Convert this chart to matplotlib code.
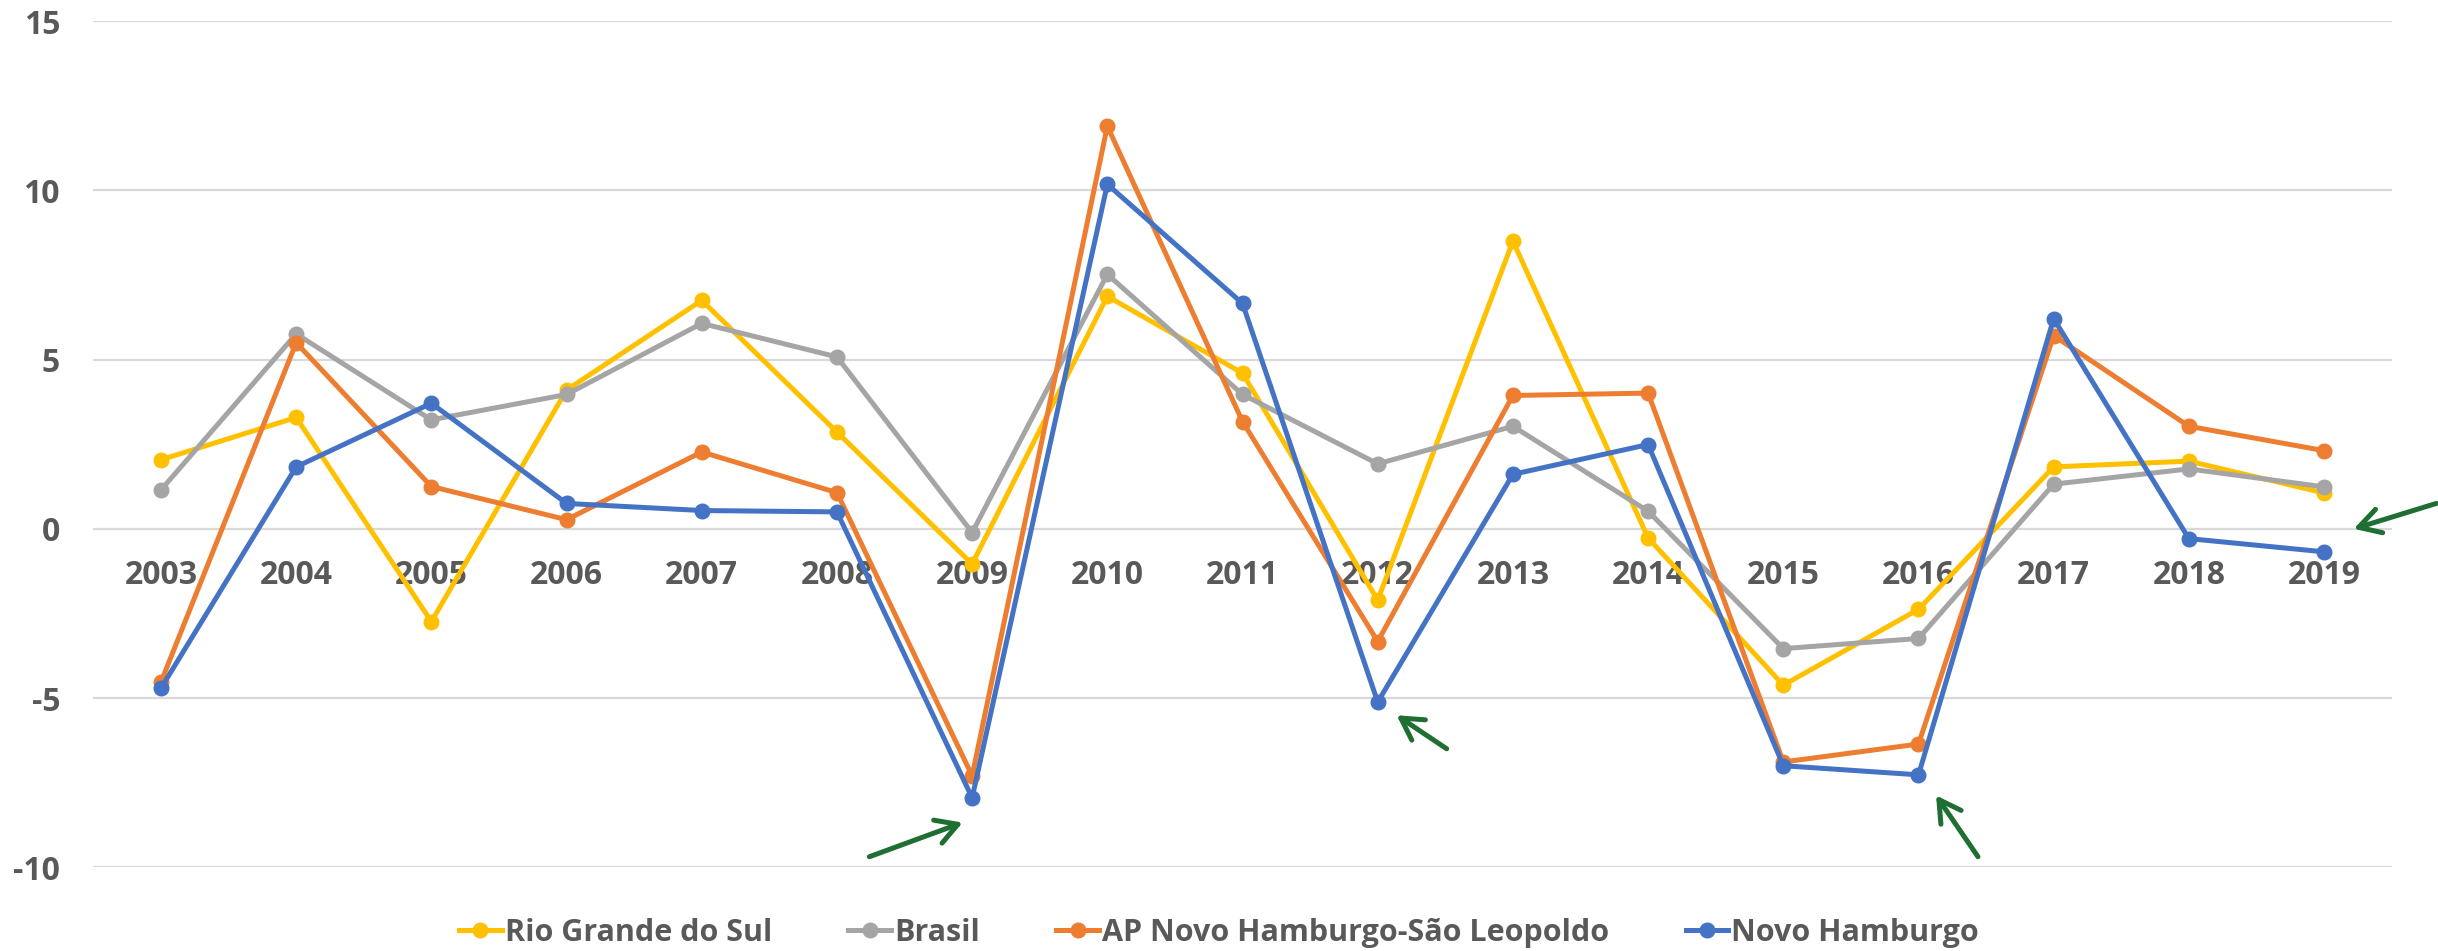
import matplotlib.pyplot as plt

years = ['2003', '2004', '2005', '2006', '2007', '2008', '2009', '2010', '2011',
         '2012', '2013', '2014', '2015', '2016', '2017', '2018', '2019']

rio_grande_do_sul = [2.04, 3.29, -2.74, 4.10, 6.75, 2.86, -1.04, 6.87, 4.60,
                     -2.11, 8.50, -0.27, -4.62, -2.38, 1.83, 2.00, 1.06]
brasil = [1.15, 5.76, 3.22, 3.97, 6.07, 5.08, -0.11, 7.52, 3.97,
          1.92, 3.03, 0.52, -3.54, -3.24, 1.32, 1.77, 1.24]
ap_novo_hamburgo = [-4.53, 5.50, 1.25, 0.27, 2.27, 1.07, -7.30, 11.90, 3.17,
                    -3.33, 3.94, 4.01, -6.89, -6.36, 5.71, 3.03, 2.31]
novo_hamburgo = [-4.71, 1.83, 3.71, 0.75, 0.54, 0.50, -7.95, 10.18, 6.66,
                 -5.12, 1.61, 2.49, -7.00, -7.27, 6.21, -0.29, -0.68]

series = [
    ('Rio Grande do Sul', rio_grande_do_sul, '#FFC000'),
    ('Brasil', brasil, '#A5A5A5'),
    ('AP Novo Hamburgo-São Leopoldo', ap_novo_hamburgo, '#ED7D31'),
    ('Novo Hamburgo', novo_hamburgo, '#4472C4'),
]

text_color = '#595959'
plt.rcParams['font.family'] = ['Open Sans', 'DejaVu Sans']
plt.rcParams['font.weight'] = 'bold'
plt.rcParams['axes.unicode_minus'] = False

fig = plt.figure(figsize=(24.38, 9.51), dpi=100)
ax = fig.add_axes([0.0383, 0.0881, 0.9427, 0.8896])

x = list(range(len(years)))
for name, vals, color in series:
    ax.plot(x, vals, color=color, lw=3.6, marker='o', markersize=10.5, label=name)

ax.set_xlim(-0.5, len(years) - 0.5)
ax.set_ylim(-10, 15)
ax.set_yticks([-10, -5, 0, 5, 10, 15])
ax.set_xticks(x)
ax.set_xticklabels(years)
ax.grid(axis='y', color='#D9D9D9', lw=1.6)
ax.set_axisbelow(True)

for s in ['top', 'right', 'left']:
    ax.spines[s].set_visible(False)
ax.spines['bottom'].set_position(('data', 0))
ax.spines['bottom'].set_visible(False)

ax.tick_params(axis='x', length=0, pad=22, labelsize=23, labelcolor=text_color)
ax.tick_params(axis='y', length=0, pad=24, labelsize=23, labelcolor=text_color)

# green arrows
arrow_kw = dict(arrowstyle='->, head_length=0.7, head_width=0.4', color='#1F6E32',
                lw=3.6, mutation_scale=22, shrinkA=0, shrinkB=0)
ax.annotate('', xy=(5.93, -8.68), xytext=(5.24, -9.69), arrowprops=arrow_kw)
ax.annotate('', xy=(9.14, -5.51), xytext=(9.51, -6.50), arrowprops=arrow_kw)
ax.annotate('', xy=(13.13, -7.88), xytext=(13.44, -9.69), arrowprops=arrow_kw)
ax.annotate('', xy=(16.22, 0.0), xytext=(16.83, 0.75), arrowprops=arrow_kw,
            annotation_clip=False)

fig.legend(loc='center', bbox_to_anchor=(0.5, 1 - 933 / 951), ncol=4, frameon=False,
           fontsize=22, labelcolor=text_color, handlelength=1.4, handletextpad=0.1,
           columnspacing=2.5, borderaxespad=0)

fig.savefig('out.png', dpi=100)
